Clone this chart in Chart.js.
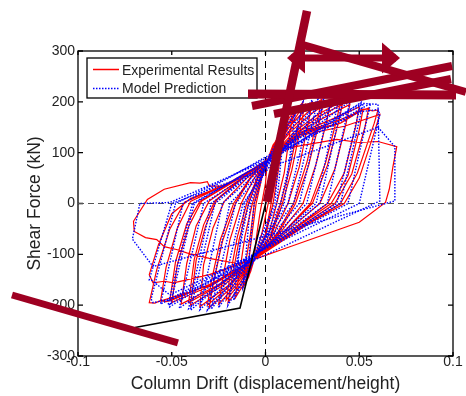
<!DOCTYPE html>
<html><head><meta charset="utf-8">
<script src="https://cdn.jsdelivr.net/npm/chart.js@4.4.0/dist/chart.umd.min.js"></script>
<style>html,body{margin:0;padding:0;background:#fff;}#c{display:block;}</style>
</head><body>
<canvas id="c" width="466" height="396"></canvas>
<script>
// ---- axes ----
const xTickValues = [-0.1, -0.05, 0, 0.05, 0.1];
const xTickLabels = ['-0.1', '-0.05', '0', '0.05', '0.1'];
const yTickValues = [-300, -200, -100, 0, 100, 200, 300];
const yTickLabels = ['-300', '-200', '-100', '0', '100', '200', '300'];
const xTitle = 'Column Drift (displacement/height)';
const yTitle = 'Shear Force (kN)';
const seriesNames = ['Experimental Results', 'Model Prediction'];

// ---- experimental results [drift, kN] ----
const experimental = [
[0,0],[0.002,50],[0.005,100],[0.004,60],[0.002,10],[-0.002,-60],[-0.006,-110],[-0.005,-70],[-0.003,-20],[0.000,40],[0.001,85],
[0.004,115],[0.008,135],[0.007,100],[0.005,40],[0.003,0],[0.000,-60],[-0.006,-110],[-0.008,-135],[-0.010,-150],[-0.009,-115],[-0.007,-55],[-0.005,0],[-0.002,50],[0.001,85],
[0.005,120],[0.010,150],[0.009,115],[0.006,45],[0.004,0],[0.000,-65],[-0.006,-110],[-0.009,-145],[-0.012,-165],[-0.011,-125],[-0.008,-60],[-0.006,0],[-0.002,55],[0.001,85],
[0.007,130],[0.012,165],[0.015,180],[0.013,140],[0.010,60],[0.006,0],[0.001,-70],[-0.006,-110],[-0.011,-155],[-0.016,-185],[-0.014,-140],[-0.011,-65],[-0.007,0],[-0.003,50],[0.001,85],
[0.008,130],[0.015,175],[0.020,200],[0.018,160],[0.013,70],[0.008,0],[0.002,-70],[-0.006,-110],[-0.013,-160],[-0.020,-195],[-0.018,-150],[-0.014,-70],[-0.009,0],[-0.004,50],[0.001,85],
[0.009,135],[0.016,178],[0.021,195],[0.019,155],[0.014,65],[0.009,0],[0.003,-65],[-0.006,-110],[-0.014,-158],[-0.021,-190],[-0.019,-145],[-0.015,-65],[-0.010,0],[-0.004,55],[0.001,85],
[0.010,135],[0.018,180],[0.025,200],[0.023,162],[0.018,72],[0.012,0],[0.004,-62],[-0.006,-110],[-0.016,-162],[-0.025,-198],[-0.023,-152],[-0.019,-72],[-0.013,0],[-0.006,50],[0.001,85],
[0.010,140],[0.020,180],[0.030,205],[0.028,170],[0.022,80],[0.015,0],[0.006,-60],[-0.006,-110],[-0.018,-165],[-0.030,-205],[-0.028,-160],[-0.023,-75],[-0.016,0],[-0.008,50],[0.001,85],
[0.012,140],[0.022,178],[0.031,200],[0.029,165],[0.023,75],[0.016,0],[0.007,-58],[-0.006,-110],[-0.019,-162],[-0.031,-200],[-0.029,-155],[-0.024,-70],[-0.017,0],[-0.008,52],[0.001,85],
[0.013,140],[0.025,178],[0.035,203],[0.033,168],[0.027,78],[0.020,0],[0.008,-57],[-0.006,-110],[-0.020,-162],[-0.035,-203],[-0.033,-120],[-0.028,-48],[-0.022,4],[-0.010,50],[0.001,85],
[0.015,140],[0.028,175],[0.040,200],[0.038,165],[0.032,80],[0.024,0],[0.010,-55],[-0.006,-110],[-0.022,-160],[-0.040,-200],[-0.037,-112],[-0.032,-45],[-0.026,7],[-0.012,50],[0.001,85],
[0.016,138],[0.029,172],[0.041,195],[0.039,160],[0.033,75],[0.025,0],[0.011,-52],[-0.006,-110],[-0.023,-158],[-0.041,-195],[-0.038,-110],[-0.033,-42],[-0.027,5],[-0.013,48],[0.001,85],
[0.017,140],[0.032,170],[0.045,195],[0.043,158],[0.037,68],[0.029,0],[0.013,-50],[-0.006,-110],[-0.025,-160],[-0.045,-198],[-0.042,-118],[-0.037,-44],[-0.030,5],[-0.014,46],[0.001,85],
[0.018,139],[0.035,165],[0.050,190],[0.048,150],[0.042,60],[0.033,0],[0.015,-50],[-0.006,-110],[-0.028,-160],[-0.050,-195],[-0.047,-120],[-0.041,-45],[-0.034,5],[-0.016,45],[0.001,85],
[0.018,135],[0.040,158],[0.052,185],[0.050,145],[0.044,55],[0.035,0],[0.016,-48],[-0.006,-110],[-0.029,-158],[-0.051,-190],[-0.048,-115],[-0.042,-40],[-0.035,4],[-0.017,44],[0.001,85],
[0.018,138],[0.038,162],[0.055,188],[0.053,150],[0.046,58],[0.037,0],[0.018,-47],[-0.006,-110],[-0.029,-160],[-0.056,-192],[-0.053,-125],[-0.047,-48],[-0.040,4],[-0.018,43],[0.001,85],
[0.018,139],[0.040,158],[0.050,184],[0.054,186],[0.057,182],[0.060,184],[0.058,158],[0.049,60],[0.040,0],[0.020,-45],[-0.006,-110],[-0.030,-160],[-0.050,-190],[-0.053,-193],[-0.056,-191],[-0.059,-196],[-0.062,-195],[-0.058,-130],[-0.051,-50],[-0.043,3],[-0.020,40],[0.001,85],
[0.020,135],[0.042,152],[0.061,175],[0.058,140],[0.050,50],[0.042,0],[0.022,-42],[-0.006,-110],[-0.030,-140],[-0.049,-156],[-0.054,-153],[-0.060,-156],[-0.062,-140],[-0.057,-80],[-0.050,-20],[-0.040,10],[-0.020,38],[0.001,85],
[0.013,110],[0.038,126],[0.050,120],[0.060,122],[0.070,112],[0.068,73],[0.066,28],[0.064,2],[0.050,-37],[0.013,-85],[-0.006,-110],[-0.015,-118],[-0.030,-108],[-0.042,-97],[-0.047,-91],[-0.054,-85],[-0.058,-71],[-0.064,-67],[-0.070,-55],[-0.0704,-35],[-0.063,8],[-0.054,28],[-0.040,41],[-0.035,40],[-0.031,43],[-0.030,34],[-0.023,34],[-0.010,60],[0.001,87]
];

// ---- model prediction [drift, kN] ----
const model = [
[0,0],[0.004,80],[0.008,135],[0.005,0],[-0.003,-70],[-0.010,-150],[-0.006,0],[0.001,85],
[0.010,150],[0.006,0],[-0.006,-105],[-0.012,-165],[-0.008,0],[0.001,80],
[0.016,185],[0.010,0],[-0.006,-110],[-0.017,-190],[-0.011,0],[0.001,82],
[0.020,200],[0.008,0],[-0.006,-112],[-0.020,-200],[-0.009,0],[0.001,85],
[0.025,204],[0.012,0],[-0.025,-205],[-0.012,0],
[0.028,205],[0.015,0],[-0.029,-208],[-0.016,0],
[0.031,205],[0.018,0],[-0.031,-210],[-0.019,0],
[0.035,204],[0.022,0],[-0.035,-209],[-0.023,0],
[0.039,203],[0.027,0],[-0.040,-210],[-0.027,0],
[0.041,200],[0.029,0],[-0.041,-207],[-0.029,0],
[0.045,201],[0.033,0],[-0.046,-206],[-0.033,0],
[0.051,199],[0.038,0],[-0.051,-203],[-0.038,0],
[0.052,196],[0.040,0],[-0.052,-200],[-0.039,0],
[0.056,197],[0.044,0],[-0.056,-198],[-0.044,0],
[0.051,197],[0.060,195],[0.061,5],[-0.050,-188],[-0.060,-195],[-0.061,-188],[-0.048,0],
[0.050,180],[0.060,185],[0.061,175],[0.050,0],[-0.051,-180],[-0.061,-150],[-0.062,-150],[-0.050,0],
[0.060,150],[0.069,112],[0.069,5],[-0.060,-124],[-0.071,-70],[-0.067,0],[-0.051,2],[0.001,85]
];

// ---- black envelope line ----
const envelope = [[0.0003,3],[-0.0136,-205.6],[-0.0696,-244]];

// ---- zero reference lines ----
const zeroForceLine = [[-0.1,0],[0.1,0]];
const zeroDriftLine = [[0,-300],[0,300]];

// ---- dark red overlay strokes [drift, kN] ----
const strokeSteep = [[0.02213,378.7],[0.0008,3]];
const strokeShaft = [[0.0136,286.2],[0.0696,286.2]];
const strokeDiag = [[0.0200,311.8],[0.1069,219.3]];
const strokeFlat = [[-0.00933,215.4],[0.1016,213.4]];
const strokeRiseA = [[-0.0072,191.8],[0.0995,270.5]];
const strokeRiseB = [[0.00453,176.1],[0.0989,244.9]];
const strokeLow = [[-0.1352,-180.0],[-0.0467,-274.4]];
const headLeft = [[0.01147,286.2],[0.02107,316.7],[0.02107,255.7]];
const headRight = [[0.07173,286.2],[0.06213,316.7],[0.06213,255.7]];

const DARK = '#9e0022';
const FONT = "'Liberation Sans', Arial, Helvetica, sans-serif";
const TXT = '#222222';

const pts = a => a.map(p => ({x: p[0], y: p[1]}));
function ds(a, color, width, dash, order, clip) {
  return {data: pts(a), showLine: true, borderColor: color, borderWidth: width,
    borderDash: dash, pointRadius: 0, pointHoverRadius: 0, tension: 0, order: order,
    clip: clip ? false : undefined, borderCapStyle: 'butt', borderJoinStyle: 'miter'};
}

const framePlugin = {
  id: 'frame',
  beforeDatasetsDraw(chart) {
    const {ctx, chartArea: a, scales: {x, y}} = chart;
    ctx.save();
    ctx.strokeStyle = '#000'; ctx.lineWidth = 1.3;
    ctx.strokeRect(a.left, a.top, a.right - a.left, a.bottom - a.top);
    ctx.beginPath();
    xTickValues.forEach(v => { const px = x.getPixelForValue(v);
      ctx.moveTo(px, a.bottom); ctx.lineTo(px, a.bottom - 4);
      ctx.moveTo(px, a.top); ctx.lineTo(px, a.top + 4); });
    yTickValues.forEach(v => { const py = y.getPixelForValue(v);
      ctx.moveTo(a.left, py); ctx.lineTo(a.left + 5, py);
      ctx.moveTo(a.right, py); ctx.lineTo(a.right - 5, py); });
    ctx.stroke();
    // legend
    const lx = a.left + 9, ly = a.top + 7, lw = 170, lh = 40;
    ctx.fillStyle = '#fff'; ctx.fillRect(lx, ly, lw, lh);
    ctx.lineWidth = 1.3; ctx.strokeStyle = '#000'; ctx.strokeRect(lx, ly, lw, lh);
    ctx.setLineDash([]);
    ctx.lineWidth = 1.5; ctx.strokeStyle = 'rgb(255,0,0)';
    ctx.beginPath(); ctx.moveTo(lx + 6, ly + 11.5); ctx.lineTo(lx + 32, ly + 11.5); ctx.stroke();
    ctx.lineWidth = 1.3; ctx.strokeStyle = '#0000ff'; ctx.setLineDash([1.5, 1.5]);
    ctx.beginPath(); ctx.moveTo(lx + 6, ly + 30.5); ctx.lineTo(lx + 32, ly + 30.5); ctx.stroke();
    ctx.setLineDash([]);
    ctx.fillStyle = TXT; ctx.font = '14px ' + FONT; ctx.textBaseline = 'middle'; ctx.textAlign = 'left';
    ctx.fillText(seriesNames[0], lx + 35, ly + 13);
    ctx.fillText(seriesNames[1], lx + 35, ly + 31.5);
    ctx.restore();
  },
  afterDatasetsDraw(chart) {
    const {ctx, scales: {x, y}} = chart;
    ctx.save();
    ctx.fillStyle = DARK;
    [headLeft, headRight].forEach(h => {
      ctx.beginPath();
      h.forEach((p, i) => { const px = x.getPixelForValue(p[0]), py = y.getPixelForValue(p[1]);
        if (i === 0) ctx.moveTo(px, py); else ctx.lineTo(px, py); });
      ctx.closePath(); ctx.fill();
    });
    ctx.restore();
  }
};

new Chart(document.getElementById('c'), {
  type: 'scatter',
  data: {datasets: [
    ds(strokeSteep, DARK, 8.5, [], 0, true),
    ds(strokeShaft, DARK, 7, [], 0, true),
    ds(strokeDiag, DARK, 8, [], 0, true),
    ds(strokeFlat, DARK, 9, [], 0, true),
    ds(strokeRiseA, DARK, 8, [], 0, true),
    ds(strokeRiseB, DARK, 8, [], 0, true),
    ds(strokeLow, DARK, 7, [], 0, true),
    ds(envelope, '#000000', 1.6, [], 1, false),
    Object.assign(ds(model, '#0000ff', 1.4, [1.5, 1.5], 2, false), {label: seriesNames[1]}),
    Object.assign(ds(experimental, '#ff0000', 1.2, [], 3, false), {label: seriesNames[0]}),
    ds(zeroDriftLine, '#000000', 1, [7, 5], 4, false),
    ds(zeroForceLine, '#555555', 1, [6, 4], 4, false)
  ]},
  options: {
    responsive: false, animation: false, events: [], devicePixelRatio: 1,
    layout: {padding: {top: 51, right: 13, left: 0, bottom: 0}},
    plugins: {legend: {display: false}, tooltip: {enabled: false}},
    scales: {
      x: {type: 'linear', position: 'bottom', min: -0.1, max: 0.1,
        afterBuildTicks: s => { s.ticks = xTickValues.map(v => ({value: v})); },
        afterFit: s => { s.height = 40; },
        grid: {display: false, drawTicks: false}, border: {display: false},
        ticks: {padding: -2, color: TXT, font: {size: 14, family: FONT},
          maxRotation: 0, autoSkip: false,
          callback: (v, i) => xTickLabels[xTickValues.indexOf(v)] ?? ''},
        title: {display: true, text: xTitle, color: TXT, font: {size: 17.5, family: FONT},
          padding: {top: 0, bottom: 1.5}}},
      y: {type: 'linear', position: 'left', min: -300, max: 300,
        afterBuildTicks: s => { s.ticks = yTickValues.map(v => ({value: v})); },
        afterFit: s => { s.width = 78; },
        grid: {display: false, drawTicks: false}, border: {display: false},
        ticks: {padding: 3, color: TXT, font: {size: 14, family: FONT}, autoSkip: false,
          callback: (v, i) => yTickLabels[yTickValues.indexOf(v)] ?? ''},
        title: {display: true, text: yTitle, color: TXT, font: {size: 17.5, family: FONT},
          padding: {top: 24.5, bottom: 0}}}
    }
  },
  plugins: [framePlugin]
});
</script>
</body></html>
